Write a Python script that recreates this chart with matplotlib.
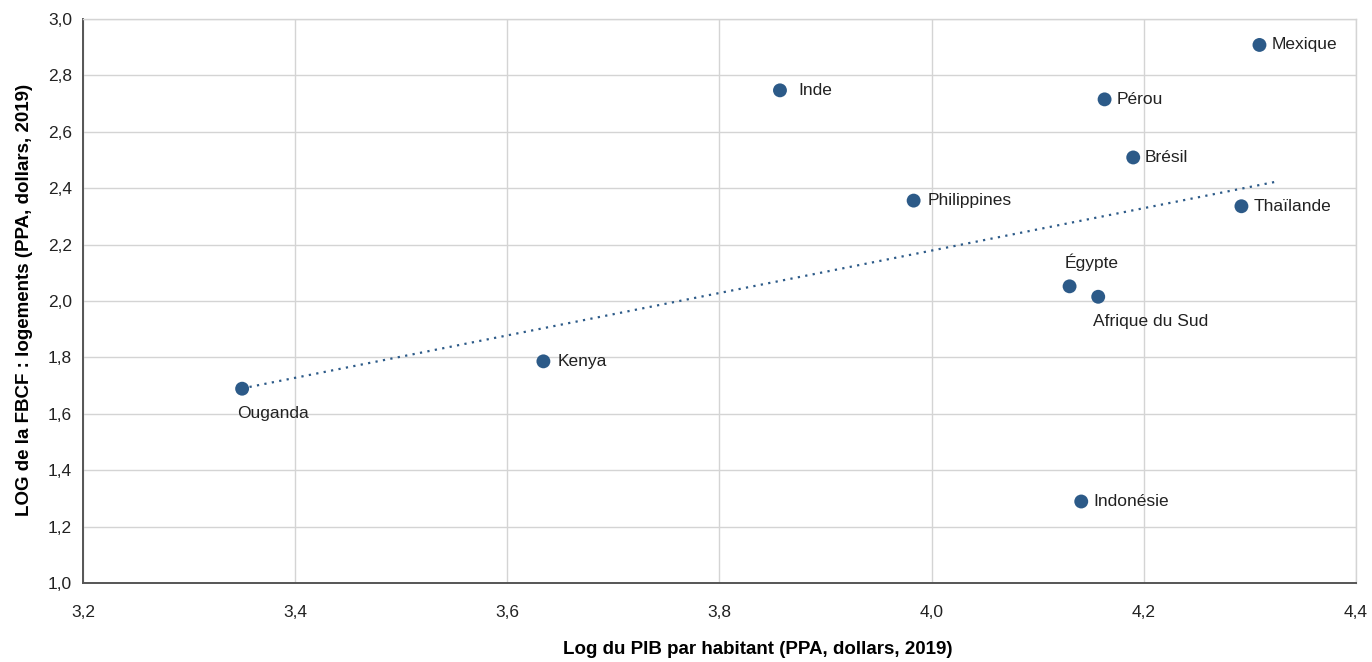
import matplotlib
matplotlib.use("Agg")
import matplotlib.pyplot as plt
from matplotlib.ticker import FuncFormatter, MultipleLocator

plt.rcParams['font.family'] = ['Liberation Sans', 'DejaVu Sans']

# data
countries = ['Ouganda', 'Kenya', 'Inde', 'Philippines', 'Égypte', 'Afrique du Sud',
             'Indonésie', 'Pérou', 'Brésil', 'Thaïlande', 'Mexique']
log_pib = [3.350, 3.634, 3.857, 3.983, 4.130, 4.157, 4.141, 4.163, 4.190, 4.292, 4.309]
log_fbcf = [1.689, 1.786, 2.747, 2.356, 2.052, 2.015, 1.289, 2.715, 2.509, 2.336, 2.908]

# trend line end points
trend_x = [3.350, 4.326]
trend_y = [1.690, 2.424]

# label offsets in points (dx, dy)
offsets = {
    'Ouganda': (-3.6, -17.5),
    'Kenya': (10, 0),
    'Inde': (13, 0),
    'Philippines': (10, 0),
    'Égypte': (-3.6, 17.5),
    'Afrique du Sud': (-3.6, -18),
    'Indonésie': (8.6, 0),
    'Pérou': (8.6, 0),
    'Brésil': (8, 0),
    'Thaïlande': (8.6, 0),
    'Mexique': (8.6, 0),
}

blue = '#2c5a88'
grid_col = '#d4d4d4'
txt_col = '#222222'

fig = plt.figure(figsize=(13.72, 6.62), dpi=100)
ax = fig.add_axes([83/1372, 1-583/662, (1356-83)/1372, (583-19)/662])

ax.plot(trend_x, trend_y, color=blue, lw=1.6, linestyle=(0, (1, 2.4)), zorder=2)
ax.scatter(log_pib, log_fbcf, s=100, color=blue, edgecolors='none', zorder=3)

for name, x, y in zip(countries, log_pib, log_fbcf):
    dx, dy = offsets[name]
    ax.annotate(name, (x, y), xytext=(dx, dy), textcoords='offset points',
                ha='left', va='center', fontsize=12.5, color=txt_col)

ax.set_xlim(3.2, 4.4)
ax.set_ylim(1.0, 3.0)
ax.xaxis.set_major_locator(MultipleLocator(0.2))
ax.yaxis.set_major_locator(MultipleLocator(0.2))
fmt = FuncFormatter(lambda v, p: f"{v:.1f}".replace('.', ','))
ax.xaxis.set_major_formatter(fmt)
ax.yaxis.set_major_formatter(fmt)
ax.tick_params(axis='both', length=0, labelsize=12.5, labelcolor=txt_col)
ax.tick_params(axis='x', pad=16)
ax.tick_params(axis='y', pad=8)

ax.grid(True, color=grid_col, lw=1)
ax.set_axisbelow(True)
for side in ['top', 'right']:
    ax.spines[side].set_color(grid_col)
    ax.spines[side].set_linewidth(1)
for side in ['left', 'bottom']:
    ax.spines[side].set_color('#555555')
    ax.spines[side].set_linewidth(1.4)

fig.text(758/1372, 1-650/662, 'Log du PIB par habitant (PPA, dollars, 2019)',
         ha='center', va='center', fontsize=13.5, fontweight='bold', color='black')
fig.text(25/1372, 1-300/662, 'LOG de la FBCF : logements (PPA, dollars, 2019)',
         ha='center', va='center', rotation=90, fontsize=13.5, fontweight='bold', color='black')

fig.savefig('out.png', dpi=100)
